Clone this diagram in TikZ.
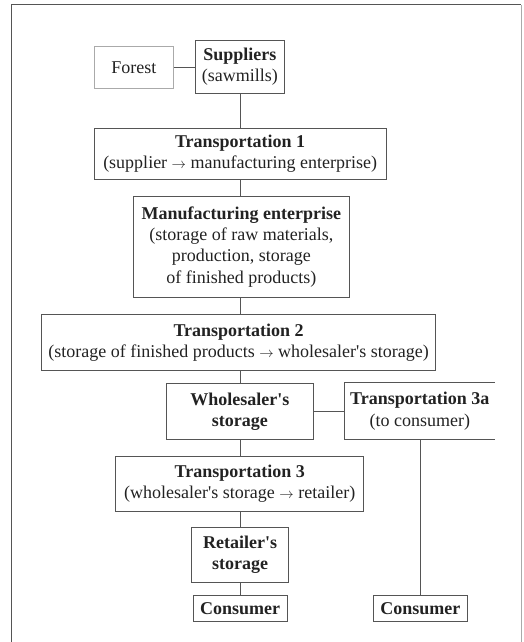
\documentclass[tikz,border=0pt]{standalone}
\usepackage{fontspec}
\setmainfont{Liberation Serif}[Ligatures=TeXOff]
\definecolor{linec}{HTML}{555555}
\definecolor{lightc}{HTML}{AAAAAA}
\definecolor{textc}{HTML}{222222}
\newcommand{\arr}{{\fontsize{15}{15}\selectfont$\rightarrow$}}
\begin{document}
\begin{tikzpicture}[x=1pt,y=-1pt,
  box/.style={draw=linec,line width=0.9pt,anchor=north west,inner sep=0pt,align=center,text=textc,
    font=\fontsize{18}{21.4}\selectfont},
  conn/.style={draw=linec,line width=0.9pt}]
\useasboundingbox (0,0) rectangle (523,642);
% outer frame
\draw[linec,line width=1pt] (11,642) -- (11,5) -- (521,5);
\draw[lightc,line width=0.8pt] (521,5) -- (521,642);
% nodes
\node[box,draw=lightc,minimum width=79.6pt,minimum height=42pt] (forest) at (93.7,46.3) {Forest};
\node[box,minimum width=89pt,minimum height=52.4pt] (sup) at (195,40.3) {\textbf{Suppliers}\\(sawmills)};
\node[box,minimum width=292pt,minimum height=51pt] (t1) at (93.7,127.7) {\textbf{Transportation 1}\\(supplier \arr{} manufacturing enterprise)};
\node[box,minimum width=216.3pt,minimum height=101.3pt] (man) at (132.7,195.7) {\textbf{Manufacturing enterprise}\\(storage of raw materials,\\production, storage\\of finished products)};
\node[box,minimum width=393.7pt,minimum height=55.4pt] (t2) at (41.3,314.3) {\textbf{Transportation 2}\\(storage of finished products \arr{} wholesaler's storage)};
\node[box,minimum width=146.4pt,minimum height=56pt] (whole) at (166.3,383.3) {\textbf{Wholesaler's}\\\textbf{storage}};
\node[box,draw=none,minimum width=149.3pt,minimum height=56pt] (t3a) at (344.7,382.7) {\textbf{Transportation 3a}\\(to consumer)};
\draw[conn] (t3a.north east) -- (t3a.north west) -- (t3a.south west) -- (t3a.south east);
\node[box,minimum width=248pt,minimum height=55pt] (t3) at (115.3,456) {\textbf{Transportation 3}\\(wholesaler's storage \arr{} retailer)};
\node[box,minimum width=96.7pt,minimum height=55.6pt] (ret) at (191.3,526.7) {\textbf{Retailer's}\\\textbf{storage}};
\node[box,minimum width=94pt,minimum height=25.4pt] (cons1) at (192.7,595.3) {\textbf{Consumer}};
\node[box,minimum width=93.7pt,minimum height=25.4pt] (cons2) at (373,595.3) {\textbf{Consumer}};
% connectors
\draw[conn] (forest.east) -- (forest.east -| sup.west);
\draw[conn] (sup.south) -- (sup.south |- t1.north);
\draw[conn] (t1.south -| sup.south) -- (man.north -| sup.south);
\draw[conn] (man.south -| sup.south) -- (t2.north -| sup.south);
\draw[conn] (t2.south -| sup.south) -- (whole.north -| sup.south);
\draw[conn] (whole.east |- 0,411.7) -- (t3a.west |- 0,411.7);
\draw[conn] (whole.south -| sup.south) -- (t3.north -| sup.south);
\draw[conn] (t3.south -| sup.south) -- (ret.north -| sup.south);
\draw[conn] (ret.south -| sup.south) -- (cons1.north -| sup.south);
\draw[conn] (t3a.south west -| 420,0) -- (cons2.north -| 420,0);
\end{tikzpicture}
\end{document}
